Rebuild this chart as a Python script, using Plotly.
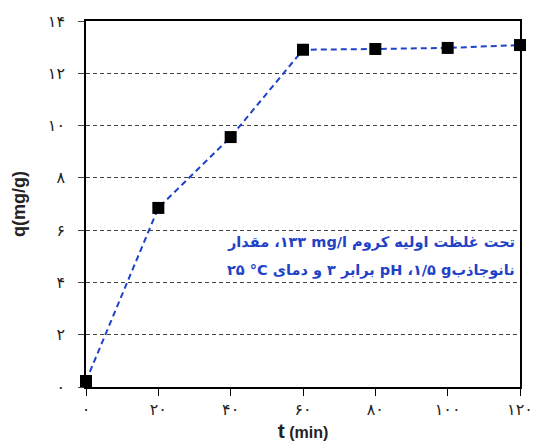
import plotly.graph_objects as go

# ---- data ----
times = [0, 20, 40, 60, 80, 100, 120]
q_values = [0.23, 6.85, 9.56, 12.9, 12.93, 12.97, 13.08]

x_tick_vals = [0, 20, 40, 60, 80, 100, 120]
x_tick_labels = ["۰", "۲۰", "۴۰", "۶۰", "۸۰", "۱۰۰", "۱۲۰"]
y_tick_vals = [0, 2, 4, 6, 8, 10, 12, 14]
y_tick_labels = ["۰", "۲", "۴", "۶", "۸", "۱۰", "۱۲", "۱۴"]

RLI, PDI, LRI = "\u2067", "\u2069", "\u2066"
note_line1 = RLI + "تحت غلظت اولیه کروم " + LRI + "mg/l" + PDI + " ۱۳۳، مقدار" + PDI
note_line2 = (RLI + "نانوجاذب" + LRI + "g" + PDI + " ۱/۵، " + LRI + "pH" + PDI
              + " برابر ۳ و دمای " + LRI + "°C" + PDI + " ۲۵" + PDI)

fig = go.Figure()
fig.add_trace(go.Scatter(
    x=times, y=q_values, mode="lines+markers",
    line=dict(color="#1f42c8", width=2, dash="6px,4px"),
    marker=dict(symbol="square", size=12, color="black"),
    cliponaxis=False, showlegend=False,
))

note_font = dict(family="DejaVu Sans", size=14.5, color="#1f42c8")
fig.add_annotation(x=119.2, y=5.51, xref="x", yref="y", text="<b>" + note_line1 + "</b>",
                   showarrow=False, xanchor="right", yanchor="middle", font=note_font)
fig.add_annotation(x=119.2, y=4.44, xref="x", yref="y", text="<b>" + note_line2 + "</b>",
                   showarrow=False, xanchor="right", yanchor="middle", font=note_font)

fig.update_layout(
    width=538, height=446,
    margin=dict(l=78, r=26, t=13, b=67, autoexpand=False),
    paper_bgcolor="white", plot_bgcolor="white",
    font=dict(family="DejaVu Sans", color="#222"),
)
fig.update_xaxes(
    range=[0, 120], tickvals=x_tick_vals, ticktext=x_tick_labels,
    showline=True, mirror=True, linecolor="black", linewidth=1.5,
    ticks="outside", ticklen=7, tickcolor="black", tickwidth=1,
    showgrid=False, zeroline=False,
    tickfont=dict(size=16, color="#222"),
    title=dict(text="<b><span style='font-size:21px'>t</span> (min)</b>",
               font=dict(family="Liberation Sans", size=16, color="#222"), standoff=4),
)
fig.update_yaxes(
    range=[0, 14], tickvals=y_tick_vals, ticktext=y_tick_labels,
    showline=True, mirror=True, linecolor="black", linewidth=1.5,
    ticks="outside", ticklen=6, tickcolor="#444", tickwidth=1,
    showgrid=True, gridcolor="#444", gridwidth=1, griddash="4px,3px",
    zeroline=False, ticklabelstandoff=10,
    tickfont=dict(size=16, color="#222"),
    title=dict(text="<b>q(mg/g)</b>",
               font=dict(family="Liberation Sans", size=18, color="#222"), standoff=18),
)

fig.write_html("out.html")
